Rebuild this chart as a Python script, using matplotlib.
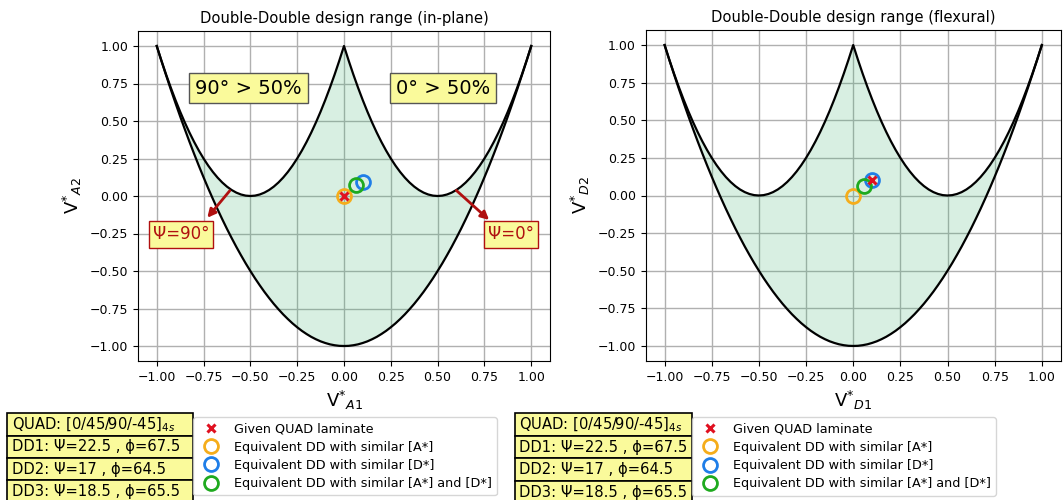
import matplotlib
matplotlib.use('Agg')
from matplotlib import pyplot as plt

# design range boundaries, V1 from -1 to 0 in steps of 0.025
# (the chart is symmetric about V1 = 0, so the right half is the mirror image)
v1_half = [-1.000, -0.975, -0.950, -0.925, -0.900, -0.875, -0.850, -0.825, -0.800, -0.775,
           -0.750, -0.725, -0.700, -0.675, -0.650, -0.625, -0.600, -0.575, -0.550, -0.525,
           -0.500, -0.475, -0.450, -0.425, -0.400, -0.375, -0.350, -0.325, -0.300, -0.275,
           -0.250, -0.225, -0.200, -0.175, -0.150, -0.125, -0.100, -0.075, -0.050, -0.025, 0.000]
upper_half = [1.000, 0.9025, 0.810, 0.7225, 0.640, 0.5625, 0.490, 0.4225, 0.360, 0.3025,
              0.250, 0.2025, 0.160, 0.1225, 0.090, 0.0625, 0.040, 0.0225, 0.010, 0.0025,
              0.000, 0.0025, 0.010, 0.0225, 0.040, 0.0625, 0.090, 0.1225, 0.160, 0.2025,
              0.250, 0.3025, 0.360, 0.4225, 0.490, 0.5625, 0.640, 0.7225, 0.810, 0.9025, 1.000]
lower_half = [1.000, 0.901, 0.805, 0.711, 0.620, 0.531, 0.445, 0.361, 0.280, 0.201,
              0.125, 0.051, -0.020, -0.089, -0.155, -0.219, -0.280, -0.339, -0.395, -0.449,
              -0.500, -0.549, -0.595, -0.639, -0.680, -0.719, -0.755, -0.789, -0.820, -0.849,
              -0.875, -0.899, -0.920, -0.939, -0.955, -0.969, -0.980, -0.989, -0.995, -0.999, -1.000]
v1 = v1_half + [-v for v in v1_half[-2::-1]]
upper = upper_half + upper_half[-2::-1]
lower = lower_half + lower_half[-2::-1]

# laminate points: quad, dd similar A, dd similar D, dd similar A and D
inplane_x = [0.0, 0.0, 0.10, 0.065]
inplane_y = [0.0, 0.0, 0.095, 0.075]
flex_x = [0.10, 0.0, 0.10, 0.055]
flex_y = [0.10, 0.0, 0.10, 0.065]

labels = ['Given QUAD laminate', 'Equivalent DD with similar [A*]',
          'Equivalent DD with similar [D*]', 'Equivalent DD with similar [A*] and [D*]']
table_rows = [['QUAD: [0/45/90/-45]$_{4s}$'], ['DD1: \u03a8=22.5 , \u03d5=67.5'],
              ['DD2: \u03a8=17 , \u03d5=64.5'], ['DD3: \u03a8=18.5 , \u03d5=65.5']]

circ_colors = ['#f5ad1b', '#1f7ee8', '#1faa1f']
yellow = '#fafa9b'
dark_red = '#b01010'

fig = plt.figure(figsize=(10.64, 5), dpi=100)
ax1 = fig.add_axes([0.1297, 0.278, 0.3872, 0.66])
ax2 = fig.add_axes([0.6069, 0.278, 0.390, 0.662])


def draw(ax, px, py, title, xl, yl, tab_x, leg_x):
    ax.plot(v1, upper, color='k', lw=1.6, zorder=3)
    ax.plot(v1, lower, color='k', lw=1.6, zorder=3)
    ax.fill_between(v1, lower, upper, color='mediumseagreen', alpha=0.2, lw=0, zorder=1)
    for i in range(1, 4):
        ax.plot(px[i], py[i], 'o', ms=10, mfc='none', mec=circ_colors[i - 1], mew=2,
                label=labels[i], zorder=4)
    ax.plot(px[0], py[0], 'x', ms=6, mew=2.2, color='#e01020', label=labels[0], zorder=5)
    ax.grid(True, color='#b0b0b0', lw=1)
    ax.set_axisbelow(True)
    ax.set_xticks([-1, -0.75, -0.5, -0.25, 0, 0.25, 0.5, 0.75, 1])
    ax.set_yticks([-1, -0.75, -0.5, -0.25, 0, 0.25, 0.5, 0.75, 1])
    ax.tick_params(labelsize=9)
    ax.set_title(title, fontsize=10.6)
    ax.set_xlabel(xl, fontsize=13)
    ax.set_ylabel(yl, fontsize=13)
    h, l = ax.get_legend_handles_labels()
    order = [3, 0, 1, 2]
    ax.legend([h[k] for k in order], [l[k] for k in order], loc='upper left',
              bbox_to_anchor=(leg_x, -0.17), fontsize=9.2, frameon=True,
              handletextpad=0.8, labelspacing=0.42, borderaxespad=0)
    tb = ax.table(cellText=table_rows, cellColours=[[yellow]] * 4, cellLoc='left',
                  bbox=[tab_x, -0.43, leg_x - tab_x, 0.272])
    tb.auto_set_font_size(False)
    tb.set_fontsize(10.6)
    for c in tb.get_celld().values():
        c.set_edgecolor('k')
        c.set_linewidth(1.2)
        c.PAD = 0.025


draw(ax1, inplane_x, inplane_y, 'Double-Double design range (in-plane)',
     r'V$^{*}$$_{A1}$', r'V$^{*}$$_{A2}$', -0.318, 0.1335)
draw(ax2, flex_x, flex_y, 'Double-Double design range (flexural)',
     r'V$^{*}$$_{D1}$', r'V$^{*}$$_{D2}$', -0.3157, 0.111)

# annotations on the in-plane chart
box = dict(boxstyle='square,pad=0.3', fc=yellow, ec='#555555', lw=1)
ax1.text(-0.51, 0.72, '90\u00b0 > 50%', fontsize=14, ha='center', va='center', bbox=box, zorder=6)
ax1.text(0.53, 0.72, '0\u00b0 > 50%', fontsize=14, ha='center', va='center', bbox=box, zorder=6)
rbox = dict(boxstyle='square,pad=0.25', fc=yellow, ec=dark_red, lw=1)
ax1.text(-0.87, -0.256, '\u03a8=90\u00b0', fontsize=12, color=dark_red, ha='center', va='center', bbox=rbox, zorder=6)
ax1.text(0.892, -0.256, '\u03a8=0\u00b0', fontsize=12, color=dark_red, ha='center', va='center', bbox=rbox, zorder=6)
arrow = dict(arrowstyle='-|>', color=dark_red, lw=2, mutation_scale=12, shrinkA=0, shrinkB=0)
ax1.annotate('', xy=(-0.73, -0.145), xytext=(-0.61, 0.035), arrowprops=arrow, zorder=6)
ax1.annotate('', xy=(0.775, -0.16), xytext=(0.60, 0.037), arrowprops=arrow, zorder=6)

fig.savefig('out.png', dpi=100)
